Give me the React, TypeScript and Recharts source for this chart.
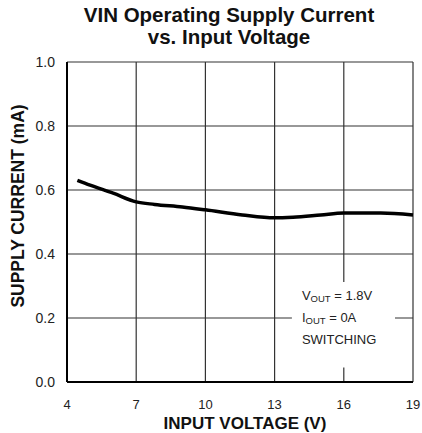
import { LineChart, Line, XAxis, YAxis, CartesianGrid, ReferenceArea } from 'recharts'

const voltage = [4.45, 5, 6, 7, 7.8, 9, 10, 11.6, 13, 13.8, 15, 16, 17.6, 19]
const current = [0.63, 0.615, 0.59, 0.563, 0.555, 0.547, 0.538, 0.522, 0.513, 0.515, 0.522, 0.528, 0.528, 0.522]
const xTicks = [4, 7, 10, 13, 16, 19]
const yTicks = [0, 0.2, 0.4, 0.6, 0.8, 1.0]

const data = voltage.map((v, i) => ({ v, i: current[i] }))

const font = "'Liberation Sans', Arial, sans-serif"

function Note(props: any) {
  const { viewBox } = props
  const x = viewBox.x + 10
  const y = viewBox.y + 18
  return (
    <g fontFamily={font} fontSize={13} fill="#222">
      <text x={x} y={y}>
        V<tspan fontSize={9.5} dy={2}>OUT</tspan>
        <tspan dy={-2}> = 1.8V</tspan>
      </text>
      <text x={x} y={y + 22}>
        I<tspan fontSize={9.5} dy={2}>OUT</tspan>
        <tspan dy={-2}> = 0A</tspan>
      </text>
      <text x={x} y={y + 44}>SWITCHING</text>
    </g>
  )
}

export default function App() {
  return (
    <div style={{ position: 'absolute', left: 0, top: 0, width: 422, height: 433, background: '#fff', fontFamily: font }}>
      <div style={{ position: 'absolute', left: 0, width: 458, top: 4, textAlign: 'center', fontWeight: 'bold', fontSize: 20.5, lineHeight: '22px', color: '#111' }}>
        VIN Operating Supply Current
        <br />
        vs. Input Voltage
      </div>
      <LineChart width={422} height={433} data={data} margin={{ top: 62, right: 9, bottom: 0, left: 0 }}>
        <CartesianGrid stroke="#333" strokeWidth={1.2} />
        <XAxis
          dataKey="v"
          type="number"
          domain={[4, 19]}
          ticks={xTicks}
          interval={0}
          tickLine={false}
          axisLine={{ stroke: '#000', strokeWidth: 2 }}
          tick={{ fill: '#222', fontSize: 13, fontFamily: font }}
          tickMargin={12}
          label={{ value: 'INPUT VOLTAGE (V)', position: 'insideBottom', offset: 4, dx: 5, fill: '#111', fontSize: 17, fontWeight: 'bold', fontFamily: font }}
          height={51}
        />
        <XAxis xAxisId="top" orientation="top" dataKey="v" type="number" domain={[4, 19]} tick={false} tickLine={false} height={0} axisLine={{ stroke: '#000', strokeWidth: 2 }} />
        <YAxis
          type="number"
          domain={[0, 1]}
          ticks={yTicks}
          interval={0}
          tickLine={false}
          axisLine={{ stroke: '#000', strokeWidth: 2 }}
          tickFormatter={(t: number) => t.toFixed(1)}
          tick={{ fill: '#222', fontSize: 14, fontFamily: font }}
          tickMargin={6}
          width={67}
          label={{ value: 'SUPPLY CURRENT (mA)', angle: -90, position: 'center', dx: -15.5, dy: -16, fill: '#111', fontSize: 17.5, fontWeight: 'bold', fontFamily: font }}
        />
        <YAxis yAxisId="right" orientation="right" domain={[0, 1]} tick={false} tickLine={false} width={0} axisLine={{ stroke: '#000', strokeWidth: 2 }} />
        <ReferenceArea x1={13.75} x2={18.22} y1={0.045} y2={0.3125} fill="#fff" fillOpacity={1} stroke="none" label={<Note />} />
        <Line type="monotone" dataKey="i" stroke="#000" strokeWidth={3.5} dot={false} isAnimationActive={false} />
      </LineChart>
    </div>
  )
}
